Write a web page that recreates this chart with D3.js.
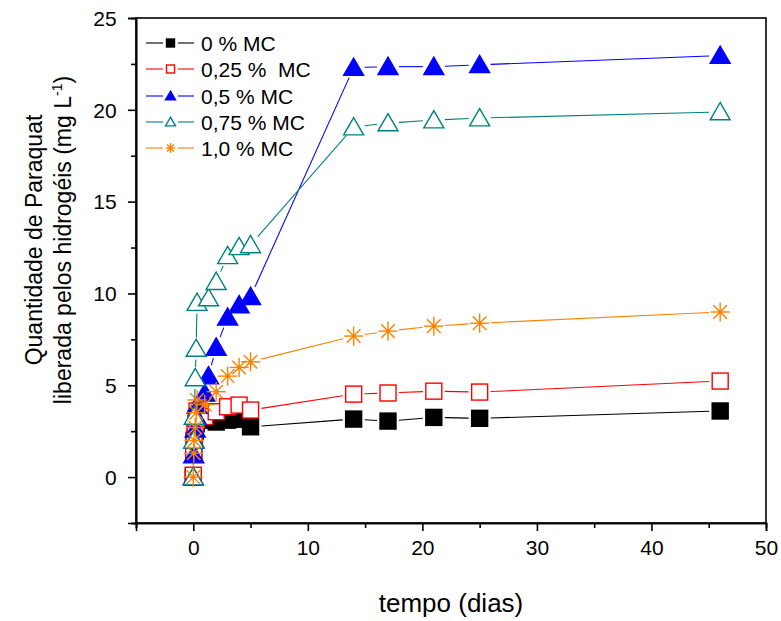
<!DOCTYPE html>
<html><head><meta charset="utf-8">
<script src="https://cdn.jsdelivr.net/npm/d3@7"></script>
<style>
body{margin:0;background:#fff;}
text{font-family:Arial,"Liberation Sans",sans-serif;}
</style></head>
<body><svg id="c" width="781" height="621"></svg>
<script>
// ---- data ----
const days      = [0, 0.04, 0.08, 0.17, 0.25, 0.33, 1, 1.33, 2, 3, 4, 5, 14, 17, 21, 25, 46];
const mc000     = [0, 1.3, 2.0, 2.5, 2.9, 3.1, 3.1, null, 3.0, 3.1, 3.15, 2.74, 3.16, 3.05, 3.25, 3.2, 3.6];
const mc025     = [0.1, 1.3, 2.0, 2.7, 3.2, 3.6, 3.3, null, 3.56, 3.83, 3.92, 3.65, 4.52, 4.58, 4.68, 4.63, 5.23];
const mc050     = [0, 1.2, 2.0, 2.6, 3.3, 3.9, 4.56, 5.5, 7.06, 8.7, 9.37, 9.82, 22.3, 22.35, 22.35, 22.45, 22.95];
const mc075     = [0, 2.0, 3.3, 5.4, 7.0, 9.5, null, 9.75, 10.64, 12.05, 12.54, 12.64, 19.06, 19.28, 19.44, 19.55, 19.88];
const mc100     = [0, 1.3, 2.0, 2.7, 3.5, 4.2, 3.95, null, 4.65, 5.5, 5.97, 6.28, 7.68, 7.95, 8.22, 8.38, 8.99];
const seriesNames = ["0 % MC", "0,25 %  MC", "0,5 % MC", "0,75 % MC", "1,0 % MC"];
const seriesColors = ["#000000", "#FF0000", "#0000FF", "#008080", "#FF8000"];
const seriesMarkers = ["squareFilled", "squareOpen", "triFilled", "triOpen", "star"];
const xTicks = [0, 10, 20, 30, 40, 50];
const yTicks = [0, 5, 10, 15, 20, 25];
const xTitle = "tempo (dias)";
const yTitle1 = "Quantidade de Paraquat";
const yTitle2 = "liberada pelos hidrogéis (mg L";

const seriesValues = [mc000, mc025, mc050, mc075, mc100];

const svg = d3.select("#c");
const L = 136, R = 766, T = 18, B = 523;
const x = d3.scaleLinear().domain([-5, 50]).range([L, R]);
const y = d3.scaleLinear().domain([-2.5, 25]).range([B, T]);

// frame
svg.append("rect").attr("x", L).attr("y", T).attr("width", R - L).attr("height", B - T)
  .attr("fill", "none").attr("stroke", "#000").attr("stroke-width", 1.6);

// axes
const xAxis = d3.axisBottom(x).tickValues(xTicks).tickSize(8).tickFormat(d3.format("d"));
const xMinor = d3.axisBottom(x).tickValues(d3.range(-5, 51, 10)).tickSize(5).tickFormat("");
const yAxis = d3.axisLeft(y).tickValues(yTicks).tickSize(8).tickFormat(d3.format("d"));
const yMinor = d3.axisLeft(y).tickValues(d3.range(-2.5, 25, 5)).tickSize(5).tickFormat("");

function styleAxis(g){
  g.select(".domain").attr("stroke-width", 1.6);
  g.selectAll(".tick line").attr("stroke-width", 1.6);
  g.selectAll(".tick text").attr("font-size", 21).attr("font-family", "Arial, 'Liberation Sans'").attr("fill", "#000");
}
svg.append("g").attr("transform", `translate(0,${B})`).call(xAxis).call(styleAxis)
  .selectAll(".tick text").attr("dy", "1.0em");
svg.append("g").attr("transform", `translate(0,${B})`).call(xMinor).call(styleAxis);
svg.append("g").attr("transform", `translate(${L},0)`).call(yAxis).call(styleAxis)
  .selectAll(".tick text").attr("dx", "-0.4em").attr("dy", "0.35em");
svg.append("g").attr("transform", `translate(${L},0)`).call(yMinor).call(styleAxis);

// titles
svg.append("text").attr("x", 451).attr("y", 612).attr("text-anchor", "middle")
  .attr("font-size", 26).text(xTitle);
const yt = svg.append("g").attr("transform", "translate(0,240) rotate(-90)");
yt.append("text").attr("x", 0).attr("y", 42).attr("text-anchor", "middle").attr("font-size", 23).text(yTitle1);
const t2 = yt.append("text").attr("x", 0).attr("y", 71).attr("text-anchor", "middle").attr("font-size", 23);
t2.append("tspan").text(yTitle2);
t2.append("tspan").attr("font-size", 14).attr("dy", -9).text("-1");
t2.append("tspan").attr("dy", 9).text(")");

// markers
function drawMarker(g, type, color, cx, cy, s){
  if (type === "squareFilled" || type === "squareOpen"){
    g.append("rect").attr("x", cx - s/2).attr("y", cy - s/2).attr("width", s).attr("height", s)
      .attr("fill", type === "squareFilled" ? color : "#fff").attr("stroke", color).attr("stroke-width", 1.4);
  } else if (type === "triFilled" || type === "triOpen"){
    const w = s * 1.25, h = s * 1.08;
    const pts = [[cx, cy - h*0.55], [cx - w/2, cy + h*0.45], [cx + w/2, cy + h*0.45]];
    g.append("polygon").attr("points", pts.map(p => p.join(",")).join(" "))
      .attr("fill", type === "triFilled" ? color : "#fff").attr("stroke", color).attr("stroke-width", 1.4);
  } else {
    const r = s * 0.6;
    for (let a = 0; a < 180; a += 45){
      const rad = a * Math.PI / 180;
      g.append("line").attr("x1", cx - r*Math.cos(rad)).attr("y1", cy - r*Math.sin(rad))
        .attr("x2", cx + r*Math.cos(rad)).attr("y2", cy + r*Math.sin(rad))
        .attr("stroke", color).attr("stroke-width", 1.4);
    }
    g.append("circle").attr("cx", cx).attr("cy", cy).attr("r", s*0.12).attr("fill", color);
  }
}

// lines with gaps + markers
const gap = 11;
seriesValues.forEach((vals, si) => {
  const color = seriesColors[si];
  const g = svg.append("g");
  const pts = days.map((d, i) => vals[i] == null ? null : [x(d), y(vals[i])]).filter(p => p);
  for (let i = 0; i < pts.length - 1; i++){
    const [x1, y1] = pts[i], [x2, y2] = pts[i+1];
    const dx = x2 - x1, dy = y2 - y1, len = Math.hypot(dx, dy);
    if (len <= 2*gap) continue;
    const ux = dx/len, uy = dy/len;
    g.append("line").attr("x1", x1 + ux*gap).attr("y1", y1 + uy*gap)
      .attr("x2", x2 - ux*gap).attr("y2", y2 - uy*gap)
      .attr("stroke", color).attr("stroke-width", 1.1);
  }
  pts.forEach(p => drawMarker(g, seriesMarkers[si], color, p[0], p[1], 16));
});

// legend
const legY = [43, 69, 96, 122, 148];
seriesNames.forEach((name, i) => {
  const g = svg.append("g");
  const c = seriesColors[i];
  g.append("line").attr("x1", 146).attr("x2", 163).attr("y1", legY[i]).attr("y2", legY[i]).attr("stroke", c).attr("stroke-width", 1.1);
  g.append("line").attr("x1", 178).attr("x2", 194).attr("y1", legY[i]).attr("y2", legY[i]).attr("stroke", c).attr("stroke-width", 1.1);
  drawMarker(g, seriesMarkers[i], c, 170.5, legY[i], 8);
  g.append("text").attr("x", 201).attr("y", legY[i] + 7.5).attr("font-size", 21)
    .style("white-space", "pre").attr("xml:space", "preserve").text(name);
});
</script></body></html>
